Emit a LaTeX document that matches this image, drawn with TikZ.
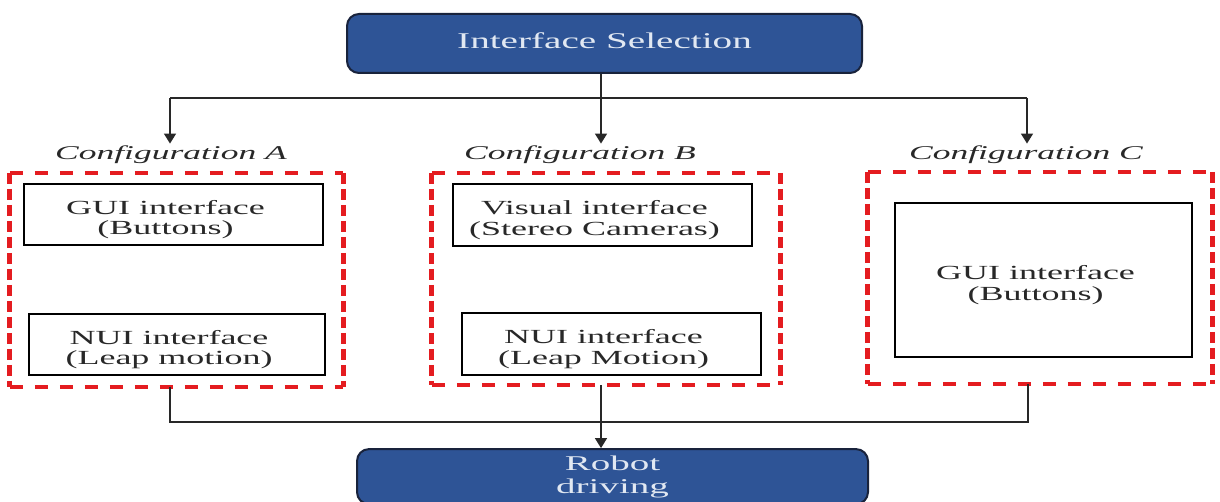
\documentclass[tikz,border=0pt]{standalone}
\usepackage{fontspec}
\setmainfont{Liberation Serif}
\usepackage{graphicx}
\usetikzlibrary{arrows.meta}
\definecolor{boxblue}{RGB}{46,84,150}
\definecolor{boxedge}{RGB}{25,35,60}
\definecolor{dashred}{RGB}{228,28,32}
\definecolor{inkgray}{RGB}{40,40,40}
\definecolor{paletext}{RGB}{225,232,242}
\newcommand{\stx}[2]{\scalebox{#1}[1]{#2}}
\begin{document}
\begin{tikzpicture}[x=1pt,y=-1pt,
  bluebox/.style={draw=boxedge, line width=2pt, fill=boxblue, rounded corners=12pt, text=paletext, inner sep=0pt},
  ibox/.style={draw=black, line width=2pt, inner sep=0pt},
  itext/.style={align=center, font=\fontsize{20}{20.5}\selectfont, text=inkgray, inner sep=0pt, xshift=-8pt, yshift=-5pt},
  cfglabel/.style={font=\fontsize{19.5}{22}\selectfont\itshape, text=inkgray, inner sep=2.5pt, anchor=base},
  region/.style={draw=none, inner sep=0pt},
  hdash/.style={draw=dashred, line width=4pt, dash pattern=on 13pt off 12pt},
  vdash/.style={draw=dashred, line width=5pt, dash pattern=on 11pt off 5pt},
  conn/.style={draw=inkgray, line width=1.5pt},
  arr/.style={conn, -{Triangle[width=12pt,length=10pt]}}]

\useasboundingbox (0,0) rectangle (1220,502);
\fill[white] (0,0) rectangle (1220,502);

% main blue boxes
\node[bluebox, minimum width=515pt, minimum height=59pt, font=\fontsize{22.5}{26}\selectfont, text depth=6pt] (sel) at (604.5,43.5) {\stx{1.74}{Interface Selection}};
\node[bluebox, minimum width=511pt, minimum height=55pt, align=center, font=\fontsize{21}{23}\selectfont] (robot) at (612.5,476.6) {\stx{1.86}{Robot}\\\stx{1.86}{driving}};

% configuration labels
\node[cfglabel] (lA) at (171,160) {\stx{1.82}{Configuration A}};
\node[cfglabel] (lB) at (580,160) {\stx{1.82}{Configuration B}};
\node[cfglabel] (lC) at (1026,160) {\stx{1.82}{Configuration C}};

% configuration regions
\node[region, minimum width=333pt, minimum height=214pt] (cA) at (176.5,280) {};
\node[region, minimum width=348pt, minimum height=212pt] (cB) at (606,279) {};
\node[region, minimum width=344pt, minimum height=212pt] (cC) at (1040,278) {};
\foreach \r in {cA,cB,cC}{
  \draw[hdash] (\r.north west) -- (\r.north east);
  \draw[hdash] (\r.south west) -- (\r.south east);
  \draw[vdash] (\r.north west) -- (\r.south west);
  \draw[vdash] (\r.north east) -- (\r.south east);
}

% interface boxes
\node[ibox, minimum width=299pt, minimum height=61pt] (gA) at (173.5,214.5) {};
\node[itext] (gAt) at (gA.center) {\stx{1.8}{GUI interface}\\\stx{1.8}{(Buttons)}};
\node[ibox, minimum width=296pt, minimum height=61pt] (nA) at (177,344.5) {};
\node[itext] (nAt) at (nA.center) {\stx{1.8}{NUI interface}\\\stx{1.8}{(Leap motion)}};
\node[ibox, minimum width=299pt, minimum height=62pt] (vB) at (602.5,215) {};
\node[itext] (vBt) at (vB.center) {\stx{1.8}{Visual interface}\\\stx{1.8}{(Stereo Cameras)}};
\node[ibox, minimum width=299pt, minimum height=62pt] (nB) at (611.5,344) {};
\node[itext] (nBt) at (nB.center) {\stx{1.8}{NUI interface}\\\stx{1.8}{(Leap Motion)}};
\node[ibox, minimum width=297pt, minimum height=154pt] (gC) at (1043.5,280) {};
\node[itext] (gCt) at (gC.center) {\stx{1.8}{GUI interface}\\\stx{1.8}{(Buttons)}};

% connectors
\coordinate (tl) at (170,98);
\coordinate (tm) at (601,98);
\coordinate (tr) at (1027,98);
\draw[conn] (sel.south -| tm) -- (tm);
\draw[conn] (tl) -- (tr);
\draw[arr] (tl) -- (tl |- lA.north);
\draw[arr] (tm) -- (tm |- lB.north);
\draw[arr] (tr) -- (tr |- lC.north);

\coordinate (bl) at (170,422);
\coordinate (bm) at (601,422);
\coordinate (br) at (1028,422);
\draw[conn] (cA.south -| bl) -- (bl) -- (br) -- (cC.south -| br);
\draw[arr] (cB.south -| bm) -- (robot.north -| bm);
\end{tikzpicture}
\end{document}
